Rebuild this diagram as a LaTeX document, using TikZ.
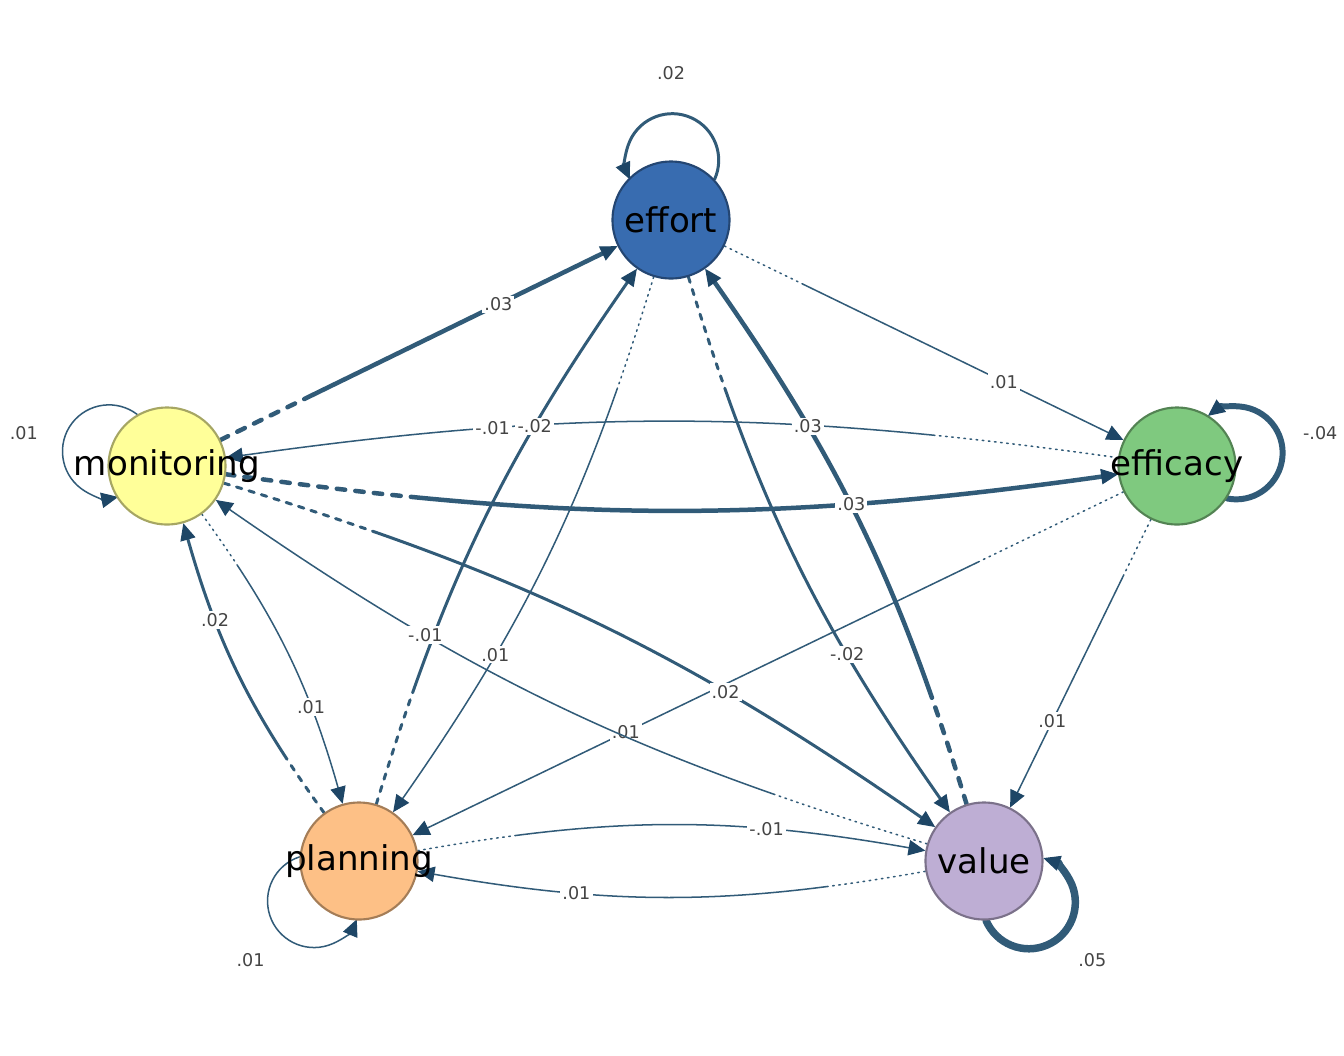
\documentclass[tikz,border=0pt]{standalone}
\usepackage{fontspec}
\setmainfont{DejaVu Sans}
\usetikzlibrary{arrows.meta}
\usetikzlibrary{calc, backgrounds}

\definecolor{effcol}{HTML}{386CB0}
\definecolor{ecacol}{HTML}{7FC97F}
\definecolor{valcol}{HTML}{BEAED4}
\definecolor{placol}{HTML}{FDC086}
\definecolor{moncol}{HTML}{FFFF99}
\definecolor{edgecol}{RGB}{49, 91, 120}
\definecolor{tipcol}{RGB}{30, 70, 102}
\definecolor{labcol}{HTML}{444444}

\tikzset{
    var/.style = {circle, draw = #1!65!black, fill = #1, line width = 0.6pt,
        minimum size = 1.17cm, inner sep = 0pt, font = \fontsize{9.7}{11.6}\selectfont},
    link/.style = {draw = edgecol, line cap = round,
        -{Triangle[length = 4.8pt, width = 4.4pt, line width = 0.3pt, fill = tipcol, color = tipcol]}},
    lbl/.style = {fill = white, inner sep = 0.6pt, text = labcol, font = \fontsize{5}{6}\selectfont},
    w1/.code = {\pgfkeysalso{line width = 0.43pt}\def\dashon{0.45pt}\def\dashoff{1.3pt}},
    w2/.code = {\pgfkeysalso{line width = 0.85pt}\def\dashon{1.6pt}\def\dashoff{2.1pt}},
    w3/.code = {\pgfkeysalso{line width = 1.28pt}\def\dashon{2.4pt}\def\dashoff{2.9pt}},
    lead/.code = {%
        \pgfmathtruncatemacro\leadn{max(1, round(#1 / (\dashon + \dashoff)))}%
        \gdef\leadpat{}%
        \foreach \k in {1, ..., \leadn} {\xdef\leadpat{\leadpat on \dashon\space off \dashoff\space}}%
        \edef\leadset{\noexpand\pgfkeysalso{dash pattern = \leadpat on 2000pt off 1pt}}%
        \leadset}
}

\begin{document}
\begin{tikzpicture}
    \useasboundingbox (0, 0) rectangle (13.44, -10.56);

    % Variables
    \node[var = effcol] (eff) at (6.71, -2.20) {\makebox[0pt]{effort}};
    \node[var = ecacol] (eca) at (11.77, -4.66) {\makebox[0pt]{efficacy}};
    \node[var = valcol] (val) at (9.84, -8.61) {\makebox[0pt]{value}};
    \node[var = placol] (pla) at (3.59, -8.61) {\makebox[0pt]{planning}};
    \node[var = moncol] (mon) at (1.67, -4.66) {\makebox[0pt]{monitoring}};

    \begin{scope}[on background layer]
        % Straight edges
        \draw[link, w3, lead = 24pt] (mon) -- (eff) node[lbl, pos = 0.7] {.03};
        \draw[link, w1, lead = 24pt] (eff) -- (eca) node[lbl, pos = 0.7] {.01};
        \draw[link, w1, lead = 17pt] (eca) -- (val) node[lbl, pos = 0.7] {.01};
        \draw[link, w1, lead = 45pt] (eca) -- (pla) node[lbl, pos = 0.7] {.01};

        % Curved pairs
        \draw[link, w1, lead = 52pt] (eca) to[bend right = 8] node[lbl, pos = 0.715] {-.01} (mon);
        \draw[link, w2, lead = 34pt] (pla) to[bend left = 9] node[lbl, pos = 0.7] {-.02} (eff);
        \draw[link, w1, lead = 34pt] (eff) to[bend left = 9] node[lbl, pos = 0.7] {.01} (pla);
        \draw[link, w2, lead = 34pt] (eff) to[bend right = 9] node[lbl, pos = 0.7] {-.02} (val);
        \draw[link, w3, lead = 34pt] (val) to[bend right = 9] node[lbl, pos = 0.7] {.03} (eff);
        \draw[link, w3, lead = 52pt] (mon) to[bend right = 8] node[lbl, pos = 0.715] {.03} (eca);
        \draw[link, w2, lead = 45pt] (mon) to[bend left = 9] node[lbl, pos = 0.7] {.02} (val);
        \draw[link, w1, lead = 45pt] (val) to[bend left = 9] node[lbl, pos = 0.7] {-.01} (mon);
        \draw[link, w1, lead = 17pt] (mon) to[bend left = 10] node[lbl, pos = 0.7] {.01} (pla);
        \draw[link, w2, lead = 17pt] (pla) to[bend left = 10] node[lbl, pos = 0.7] {.02} (mon);
        \draw[link, w1, lead = 28pt] (pla) to[bend left = 10] node[lbl, pos = 0.7] {-.01} (val);
        \draw[link, w1, lead = 28pt] (val) to[bend left = 10] node[lbl, pos = 0.7] {.01} (pla);

        % Self loops
        \foreach \v/\t/\lw/\lab in {eff/90/0.85/.02, eca/13/1.7/-.04, val/-42.5/2.13/.05, pla/222.5/0.43/.01, mon/167/0.43/.01} {
            \pgfmathsetmacro\a{\t - 46.4}
            \draw[link, line width = \lw pt] (\v.\a) arc[start angle = \t - 114.4, end angle = \t + 114.4, radius = 0.465];
            \node[lbl] at ($(\v) + (\t:1.47)$) {\lab};
        }
    \end{scope}
\end{tikzpicture}
\end{document}
